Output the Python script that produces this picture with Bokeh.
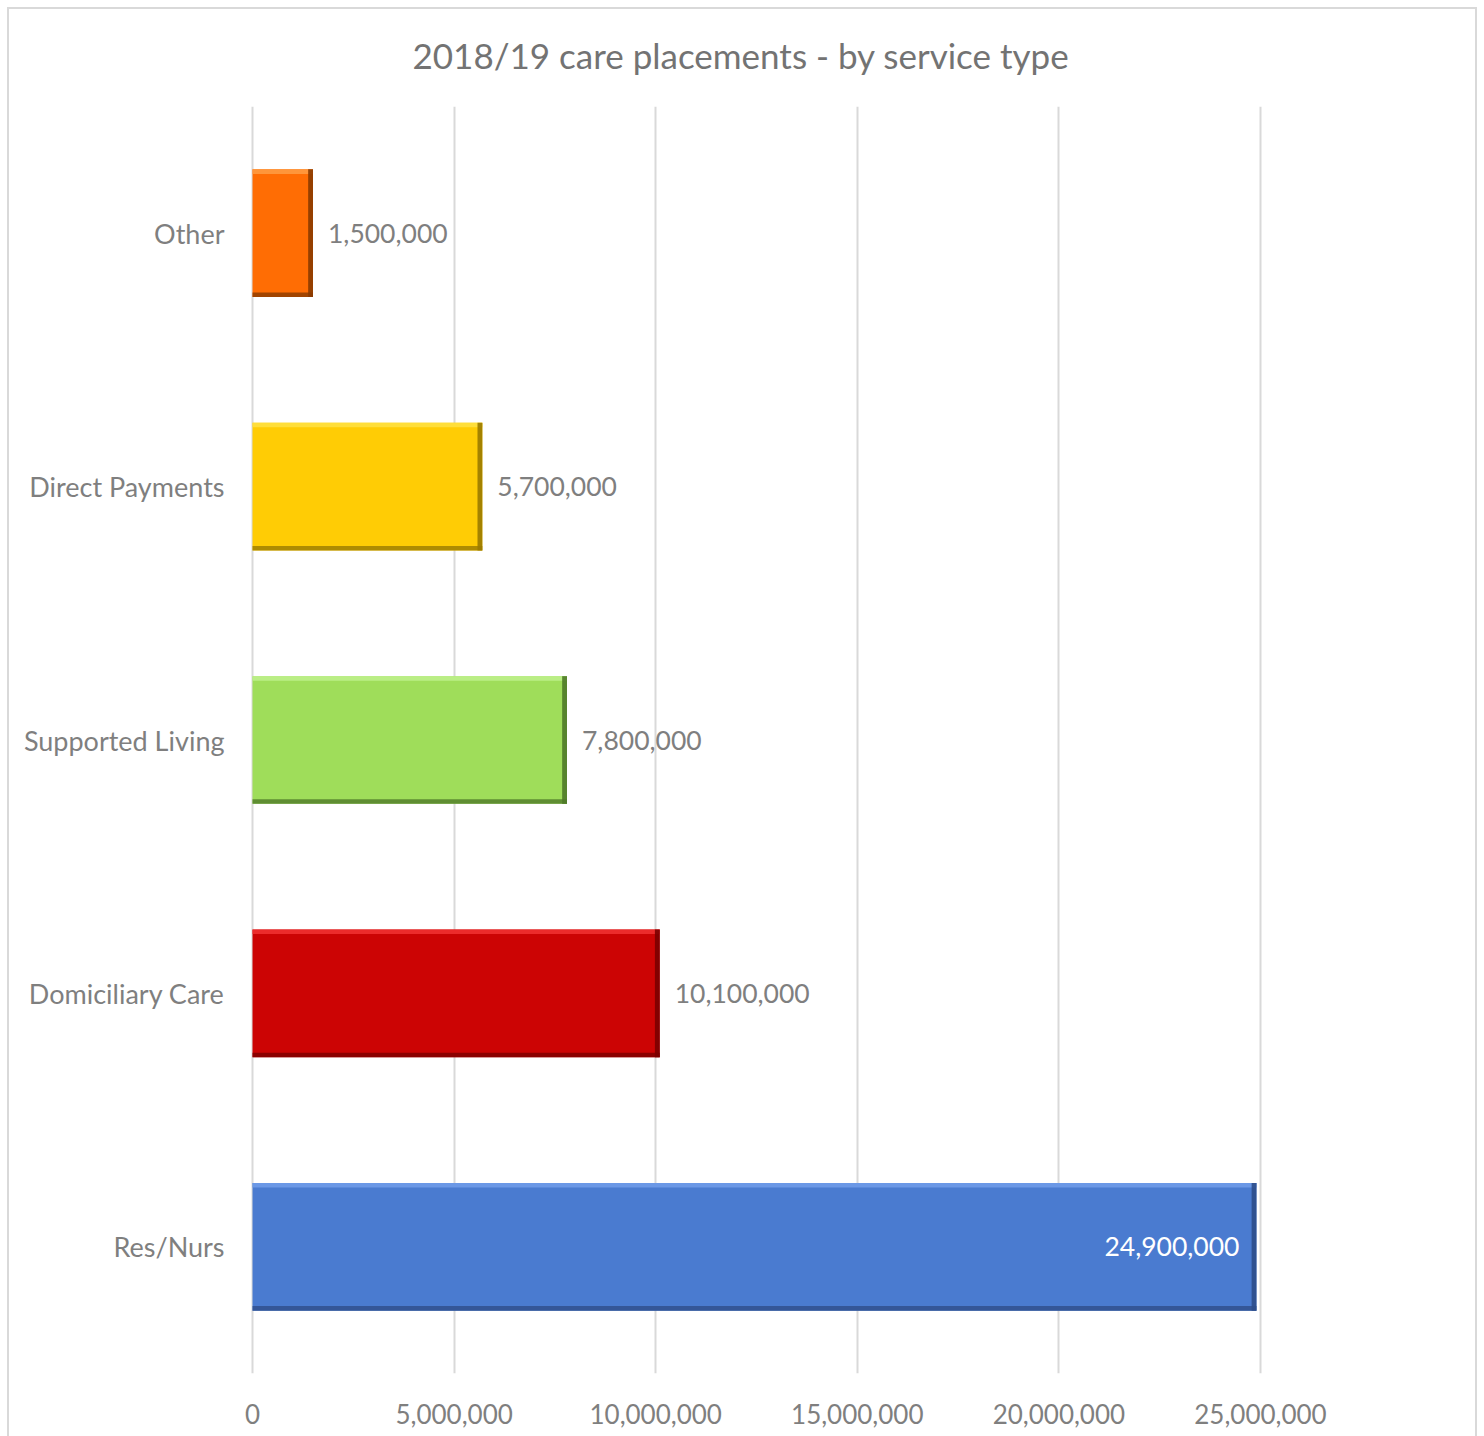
from bokeh.plotting import figure
from bokeh.models import ColumnDataSource, Range1d, FixedTicker, NumeralTickFormatter
from bokeh.core.properties import value as pv
from bokeh.embed import file_html
from bokeh.resources import INLINE

# ---- data (bottom to top) ----
categories = ["Res/Nurs", "Domiciliary Care", "Supported Living", "Direct Payments", "Other"]
values = [24900000, 10100000, 7800000, 5700000, 1500000]
colors = ["#4A7BD0", "#CC0404", "#9FDD5A", "#FFCC05", "#FF6D04"]
light = ["#6F9BE8", "#F03030", "#BDF08A", "#FFE040", "#FF9A40"]
dark = ["#2E4E8A", "#7A0000", "#4F7A28", "#9A7A00", "#8A3A00"]
x_ticks = [0, 5000000, 10000000, 15000000, 20000000, 25000000]
title = "2018/19 care placements - by service type"

FONT = "Lato"
GRAY = "#7F7F7F"

W, H = 1484, 1436
line = "linear-gradient(#D9D9D9,#D9D9D9)"
p = figure(width=W, height=H, output_backend="svg", toolbar_location=None,
           x_range=Range1d(-50000, 25050000), y_range=Range1d(-0.5, 4.5),
           min_border_left=250, min_border_right=222,
           min_border_top=106, min_border_bottom=63,
           title=title)
p.styles = {
    "background-color": "white",
    "background-image": ", ".join([line, line, line]),
    "background-size": "2px 1440px, 1470px 2px, 2px 1440px",
    "background-position": "7px 7px, 7px 7px, 1475px 7px",
    "background-repeat": "no-repeat",
}
p.outline_line_color = None
p.background_fill_color = None
p.border_fill_color = None

p.title.align = "left"
p.title.offset = 162
p.title.text_font = FONT
p.title.text_font_size = "35px"
p.title.text_font_style = "normal"
p.title.text_color = "#737373"
p.title.standoff = 62

# axes
p.xaxis.ticker = FixedTicker(ticks=x_ticks)
p.xaxis.formatter = NumeralTickFormatter(format="0,0")
p.xaxis.axis_line_color = None
p.xaxis.major_tick_line_color = None
p.xaxis.minor_tick_line_color = None
p.xaxis.major_label_text_font = FONT
p.xaxis.major_label_text_font_size = "26px"
p.xaxis.major_label_text_color = GRAY
p.xaxis.major_label_standoff = 24

p.yaxis.ticker = FixedTicker(ticks=list(range(len(categories))))
p.yaxis.major_label_overrides = {i: c for i, c in enumerate(categories)}
p.yaxis.axis_line_color = None
p.yaxis.major_tick_line_color = None
p.yaxis.minor_tick_line_color = None
p.yaxis.major_label_text_font = FONT
p.yaxis.major_label_text_font_size = "27px"
p.yaxis.major_label_text_color = GRAY
p.yaxis.major_label_standoff = 20

p.ygrid.grid_line_color = None
p.xgrid.grid_line_color = "#D9D9D9"
p.xgrid.grid_line_width = 2

# ---- bars with bevel ----
half = 0.252
bev_y = 0.018
bev_x = 120000
ys = list(range(len(categories)))
src = ColumnDataSource(dict(
    left=[0] * len(values), right=values,
    bottom=[y - half for y in ys], top=[y + half for y in ys],
    color=colors, light=light, dark=dark,
    top_strip_b=[y + half - bev_y for y in ys],
    bot_strip_t=[y - half + bev_y for y in ys],
    right_strip_l=[v - bev_x for v in values],
))
p.quad(left="left", right="right", bottom="bottom", top="top", source=src,
       fill_color="color", line_color=None)
p.quad(left="left", right="right", bottom="top_strip_b", top="top", source=src,
       fill_color="light", line_color=None, fill_alpha=0.9)
p.quad(left="left", right="right", bottom="bottom", top="bot_strip_t", source=src,
       fill_color="dark", line_color=None, fill_alpha=0.8)
p.quad(left="right_strip_l", right="right", bottom="bottom", top="top", source=src,
       fill_color="dark", line_color=None, fill_alpha=0.9)

# ---- data labels ----
vmax = max(values)
out_src = ColumnDataSource(dict(
    x=[v for v in values if v != vmax], y=[y for y, v in zip(ys, values) if v != vmax],
    t=["{:,}".format(v) for v in values if v != vmax]))
in_src = ColumnDataSource(dict(
    x=[v for v in values if v == vmax], y=[y for y, v in zip(ys, values) if v == vmax],
    t=["{:,}".format(v) for v in values if v == vmax]))
p.text(x="x", y="y", text="t", source=out_src, x_offset=15, text_align="left",
       text_baseline="middle", text_font=pv(FONT), text_font_size="26.5px", text_color=GRAY)
p.text(x="x", y="y", text="t", source=in_src, x_offset=-17, text_align="right",
       text_baseline="middle", text_font=pv(FONT), text_font_size="26.5px", text_color="white")

open("out.html", "w").write(file_html(p, INLINE))
